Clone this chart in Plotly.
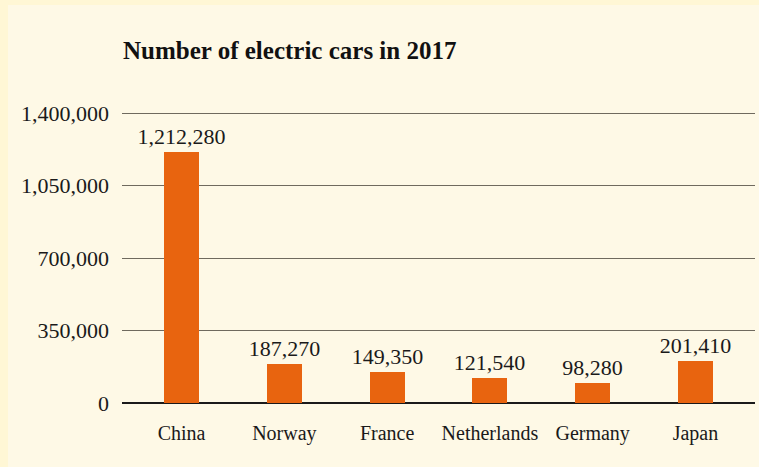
import plotly.graph_objects as go

countries = ["China", "Norway", "France", "Netherlands", "Germany", "Japan"]
cars = [1212280, 187270, 149350, 121540, 98280, 201410]
tick_vals = [0, 350000, 700000, 1050000, 1400000]
tick_text = ["0", "350,000", "700,000", "1,050,000", "1,400,000"]

FONT = "Liberation Serif"
INNER = "#FEF9E6"
OUTER = "#FFF7D5"

fig = go.Figure(go.Bar(
    x=list(range(len(countries))),
    y=cars,
    width=0.34,
    marker=dict(color="#E8640F", line=dict(width=0)),
    text=[f"{v:,}" for v in cars],
    textposition="outside",
    constraintext="none",
    textfont=dict(family=FONT, size=22, color="#1a1a1a"),
    cliponaxis=False,
))

fig.update_layout(
    width=759, height=467,
    margin=dict(l=122, r=4, t=111, b=64),
    paper_bgcolor=OUTER,
    plot_bgcolor=INNER,
    showlegend=False,
    title=dict(text="<b>Number of electric cars in 2017</b>",
               font=dict(family=FONT, size=25, color="#111"),
               x=123/759, xanchor="left", y=1-50/467, yanchor="middle"),
    xaxis=dict(tickmode="array", tickvals=list(range(len(countries))), ticktext=countries,
               range=[-0.58, 5.58], showgrid=False, zeroline=False, showline=False,
               ticks="", ticklen=0, ticklabelstandoff=16,
               tickfont=dict(family=FONT, size=20, color="#1a1a1a")),
    yaxis=dict(range=[0, 1410000], tickmode="array", tickvals=tick_vals, ticktext=tick_text,
               showgrid=True, gridcolor="#6f6a5e", gridwidth=1.3,
               zeroline=True, zerolinecolor="#1a1a1a", zerolinewidth=1.5,
               showline=False, ticks="", ticklabelstandoff=12,
               tickfont=dict(family=FONT, size=22, color="#1a1a1a")),
    bargap=0,
    shapes=[dict(type="rect", xref="paper", yref="paper",
                 x0=-(122-8)/633, x1=1+4/633, y0=-64/292, y1=1+(111-5)/292,
                 fillcolor=INNER, line=dict(width=0), layer="below")],
)

fig.write_html("out.html", config={"displayModeBar": False},
               post_script="document.body.style.margin='0';")
